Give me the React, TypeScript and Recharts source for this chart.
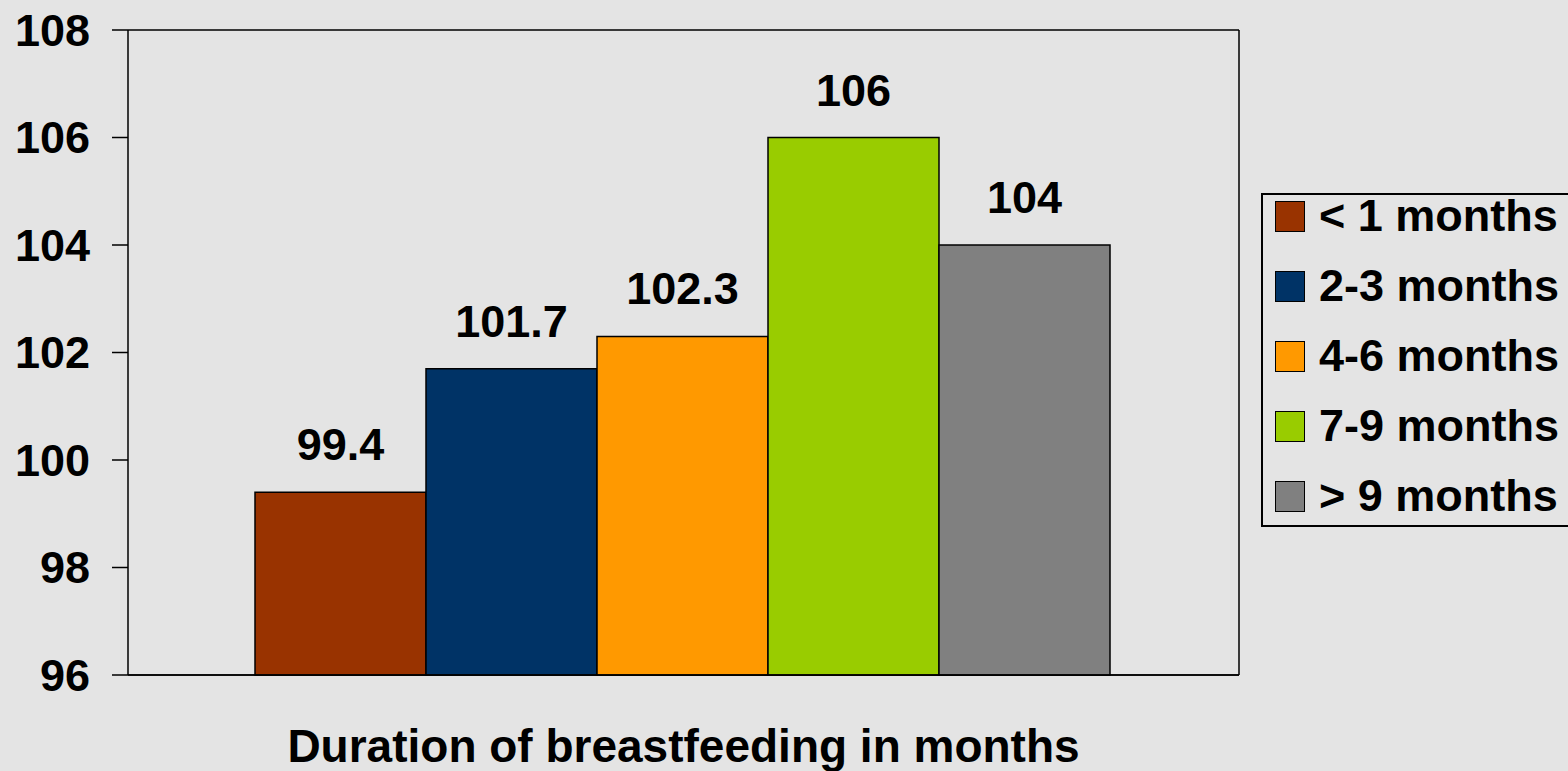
import React from 'react';
import {
  BarChart,
  Bar,
  XAxis,
  YAxis,
  CartesianGrid,
  LabelList,
} from 'recharts';

const categories = [''];
const seriesNames = ['< 1 months', '2-3 months', '4-6 months', '7-9 months', '> 9 months'];
const seriesKeys = ['lt1', 'm23', 'm46', 'm79', 'gt9'];
const seriesValues = [99.4, 101.7, 102.3, 106, 104];
const seriesColors = ['#993300', '#003366', '#FF9900', '#99CC00', '#808080'];
const yTicks = [96, 98, 100, 102, 104, 106, 108];

const data = categories.map((name) => {
  const row: any = { name };
  seriesKeys.forEach((k, i) => {
    row[k] = seriesValues[i];
  });
  return row;
});

const FONT = '"Liberation Sans", Arial, sans-serif';

// legend drawn as a plain box so it doesn't eat into the plot area
const LegendBox = () => (
  <div
    style={{
      position: 'absolute',
      left: 1261,
      top: 193,
      width: 320,
      height: 334,
      border: '2px solid #000',
      boxSizing: 'border-box',
      fontFamily: FONT,
      fontWeight: 'bold',
      fontSize: 45,
      color: '#000',
    }}
  >
    {seriesNames.map((name, i) => (
      <div
        key={name}
        style={{
          position: 'absolute',
          left: 12,
          top: -14 + i * 70,
          height: 70,
          display: 'flex',
          alignItems: 'center',
          whiteSpace: 'nowrap',
        }}
      >
        <span
          style={{
            display: 'inline-block',
            width: 28,
            height: 29,
            background: seriesColors[i],
            border: '1px solid #000',
            marginRight: 14,
          }}
        />
        <span>{name}</span>
      </div>
    ))}
  </div>
);

export default function App() {
  return (
    <div
      style={{
        position: 'absolute',
        left: 0,
        top: 0,
        width: 1568,
        height: 771,
        overflow: 'hidden',
        background: '#e4e4e4',
        fontFamily: FONT,
      }}
    >
      <BarChart
        width={1568}
        height={771}
        data={data}
        margin={{ top: 30, right: 328, left: 0, bottom: 0 }}
        barCategoryGap={127}
        barGap={0}
      >
        <CartesianGrid vertical={false} stroke="#000" strokeWidth={1.5} />
        <XAxis
          dataKey="name"
          height={96}
          tick={false}
          tickLine={false}
          axisLine={{ stroke: '#000', strokeWidth: 1.5 }}
          label={{
            value: 'Duration of breastfeeding in months',
            position: 'insideBottom',
            offset: 9,
            fill: '#000',
            fontSize: 46,
            fontWeight: 'bold',
            fontFamily: FONT,
          }}
        />
        <YAxis
          yAxisId="left"
          width={128}
          domain={[96, 108]}
          ticks={yTicks}
          interval={0}
          tickSize={16}
          tickMargin={22}
          axisLine={{ stroke: '#000', strokeWidth: 1.5 }}
          tickLine={{ stroke: '#000', strokeWidth: 1.5 }}
          tick={{ fill: '#000', fontSize: 45, fontWeight: 'bold', fontFamily: FONT }}
        />
        <YAxis
          yAxisId="right"
          orientation="right"
          width={1}
          domain={[96, 108]}
          ticks={yTicks}
          tick={false}
          tickLine={false}
          axisLine={{ stroke: '#000', strokeWidth: 1.5 }}
        />
        {seriesKeys.map((key, i) => (
          <Bar
            key={key}
            yAxisId="left"
            dataKey={key}
            name={seriesNames[i]}
            fill={seriesColors[i]}
            stroke="#000"
            strokeWidth={1.5}
            isAnimationActive={false}
          >
            <LabelList
              dataKey={key}
              position="top"
              offset={32}
              fill="#000"
              fontSize={45}
              fontWeight="bold"
              fontFamily={FONT}
            />
          </Bar>
        ))}
      </BarChart>
      <LegendBox />
    </div>
  );
}
